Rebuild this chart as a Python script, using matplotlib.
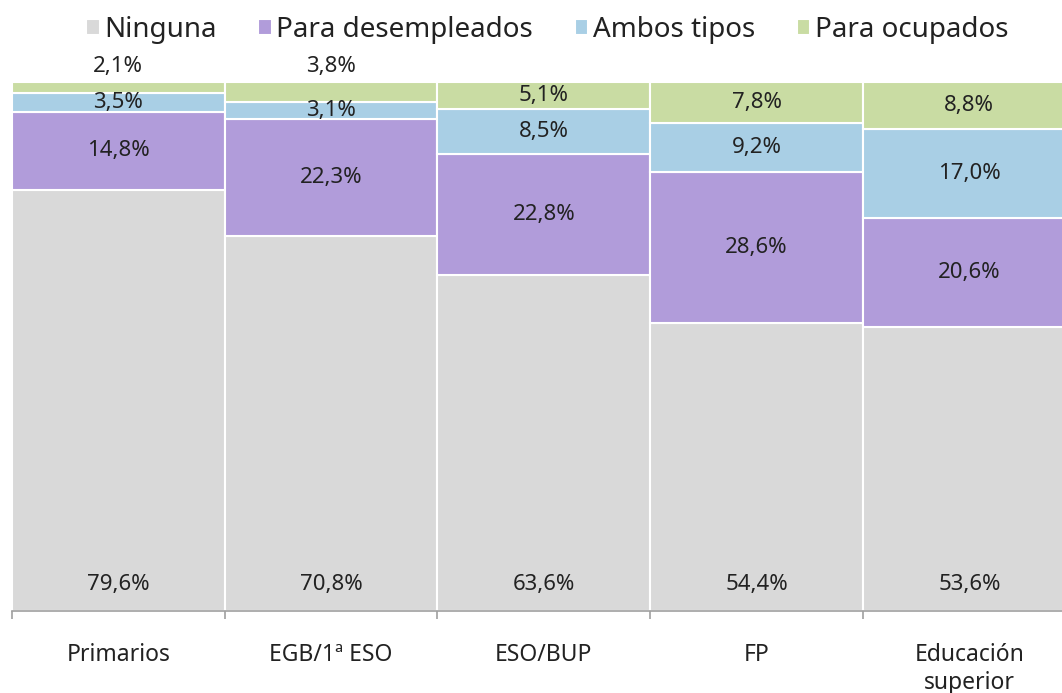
import matplotlib
matplotlib.use("Agg")
import matplotlib.pyplot as plt
import numpy as np

# Datos del gráfico (porcentajes por nivel de estudios)
categorias = ["Primarios", "EGB/1ª ESO", "ESO/BUP", "FP", "Educación\nsuperior"]
series = ["Ninguna", "Para desempleados", "Ambos tipos", "Para ocupados"]
ninguna = [79.6, 70.8, 63.6, 54.4, 53.6]
desempleados = [14.8, 22.3, 22.8, 28.6, 20.6]
ambos = [3.5, 3.1, 8.5, 9.2, 17.0]
ocupados = [2.1, 3.8, 5.1, 7.8, 8.8]

colores = ["#D9D9D9", "#B19CDA", "#A9CFE5", "#C9DCA3"]

plt.rcParams['font.family'] = ['Noto Sans', 'DejaVu Sans']

fig = plt.figure(figsize=(10.62, 6.93), dpi=100)
ax = fig.add_axes([12 / 1062, 82 / 693, 1063.75 / 1062, 529 / 693])

x = np.arange(len(categorias))
valores = [ninguna, desempleados, ambos, ocupados]
base = np.zeros(len(categorias))


def fmt(v):
    return f"{v:.1f}%".replace(".", ",")


for i, (nombre, vals) in enumerate(zip(series, valores)):
    vals = np.array(vals)
    ax.bar(x, vals, width=1.0, bottom=base, color=colores[i],
           edgecolor="white", linewidth=1.5, label=nombre)
    for j, v in enumerate(vals):
        if i == 0:
            y = 5.0
        elif i == 3 and v < 4:
            y = 103.0
        else:
            y = base[j] + v / 2
        ax.text(x[j], y, fmt(v), ha="center", va="center",
                fontsize=16, color="#222222", clip_on=False)
    base = base + vals

ax.set_xlim(-0.5, len(categorias) - 0.5)
ax.set_ylim(0, 100)
ax.set_yticks([])
for s in ["left", "right", "top"]:
    ax.spines[s].set_visible(False)
ax.spines["bottom"].set_color("#A0A0A0")
ax.spines["bottom"].set_linewidth(1.2)

ax.set_xticks(x)
ax.set_xticklabels(categorias, fontsize=16.5, color="#222222", linespacing=1.2)
ax.tick_params(axis="x", which="major", length=0, pad=23)
ax.set_xticks(np.arange(-0.5, len(categorias), 1.0), minor=True)
ax.tick_params(axis="x", which="minor", length=6, color="#A0A0A0", width=1.2)

leg = ax.legend(loc="center", bbox_to_anchor=(547 / 1062, 1 - 30 / 693),
                bbox_transform=fig.transFigure, ncol=4, frameon=False,
                fontsize=20, handlelength=0.5, handleheight=0.5,
                handletextpad=0.15, columnspacing=1.5)
for t in leg.get_texts():
    t.set_color("#222222")

fig.savefig("out.png", dpi=100)
